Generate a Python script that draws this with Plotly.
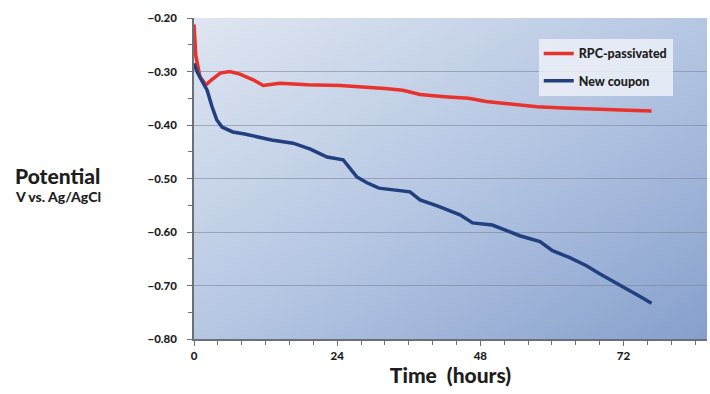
import base64
import plotly.graph_objects as go

# ---- data ----
rpc_hours = [0, 0.3, 1, 2, 3, 4.4, 6, 7.7, 10, 11.6, 14.4, 17, 19, 24.5, 29.5, 32, 35,
             37.9, 42, 46, 49, 53, 57.5, 62, 65.8, 70, 74, 76.7]
rpc_volts = [-0.212, -0.27, -0.31, -0.325, -0.315, -0.303, -0.300, -0.305, -0.316, -0.326,
             -0.322, -0.324, -0.325, -0.326, -0.329, -0.332, -0.335, -0.343, -0.347, -0.350,
             -0.356, -0.361, -0.366, -0.368, -0.370, -0.372, -0.373, -0.374]

new_hours = [0, 0.5, 1.2, 2.2, 3, 3.8, 4.7, 6.5, 8.5, 10.5, 13, 16.6, 19.5, 22.3, 25, 27.3,
             29, 31, 34, 36.2, 37.9, 41, 44.6, 46.7, 50, 53, 54.6, 58, 60.1, 63, 65.8, 68,
             70.9, 73, 74.7, 76.7]
new_volts = [-0.285, -0.30, -0.315, -0.335, -0.365, -0.39, -0.404, -0.413, -0.417, -0.422,
             -0.428, -0.434, -0.445, -0.46, -0.465, -0.497, -0.508, -0.518, -0.522, -0.525,
             -0.54, -0.552, -0.568, -0.583, -0.587, -0.600, -0.607, -0.618, -0.635, -0.648,
             -0.663, -0.678, -0.697, -0.71, -0.72, -0.733]

series_names = ["RPC-passivated", "New coupon"]
x_tick_vals = [0, 24, 48, 72]
y_tick_vals = [-0.8, -0.7, -0.6, -0.5, -0.4, -0.3, -0.2]

RED = "#e8322b"
NAVY = "#22407f"
FONT = "Lato"
TXT = "#1e1e1e"

fig = go.Figure()
fig.add_trace(go.Scatter(x=rpc_hours, y=rpc_volts, mode="lines", name=series_names[0],
                         line=dict(color=RED, width=3.5), legendgroup="a"))
fig.add_trace(go.Scatter(x=new_hours, y=new_volts, mode="lines", name=series_names[1],
                         line=dict(color=NAVY, width=3.5), legendgroup="b"))

# gradient background for the plot area
svg = ('<svg xmlns="http://www.w3.org/2000/svg" width="100" height="100" viewBox="0 0 100 100" '
       'preserveAspectRatio="none"><defs><linearGradient id="g" x1="0" y1="0" x2="1" y2="1">'
       '<stop offset="0" stop-color="#dfe6f1"/><stop offset="0.5" stop-color="#b6c7e3"/>'
       '<stop offset="1" stop-color="#86a0cd"/></linearGradient></defs>'
       '<rect width="100" height="100" fill="url(#g)"/></svg>')
src = "data:image/svg+xml;base64," + base64.b64encode(svg.encode()).decode()
fig.add_layout_image(dict(source=src, xref="paper", yref="paper", x=0, y=1, sizex=1, sizey=1,
                          sizing="stretch", xanchor="left", yanchor="top", layer="below"))

axis_common = dict(showline=True, linecolor="#6b6f78", linewidth=1.5, ticks="outside",
                   ticklen=5, tickcolor="#6b6f78", zeroline=False,
                   tickfont=dict(family=FONT, size=11.5, color=TXT, weight=900))

fig.update_xaxes(range=[0, 86], tickvals=x_tick_vals, showgrid=False,
                 minor=dict(dtick=4, ticks="outside", ticklen=4, tickcolor="#6b6f78"),
                 title=dict(text="Time\u00a0\u00a0(hours)", standoff=7,
                            font=dict(family=FONT, size=21, color=TXT, weight=900)),
                 **axis_common)
fig.update_yaxes(range=[-0.8, -0.2], tickvals=y_tick_vals, tickformat=".2f",
                 showgrid=True, gridcolor="rgba(120,128,145,0.55)", gridwidth=1,
                 minor=dict(dtick=0.05, ticks="outside", ticklen=4, tickcolor="#6b6f78",
                            showgrid=False),
                 ticklabelstandoff=8, **axis_common)

fig.add_annotation(text="Potential", xref="paper", yref="paper", x=-0.266, y=0.51,
                   showarrow=False, xanchor="center",
                   font=dict(family=FONT, size=21, color=TXT, weight=900))
fig.add_annotation(text="V vs. Ag/AgCl", xref="paper", yref="paper", x=-0.266, y=0.443,
                   showarrow=False, xanchor="center",
                   font=dict(family=FONT, size=14, color=TXT, weight=900))

fig.update_layout(
    width=710, height=394,
    margin=dict(l=194, r=3, t=18, b=55),
    paper_bgcolor="white", plot_bgcolor="rgba(0,0,0,0)",
    showlegend=True,
    legend=dict(x=0.672, y=0.935, xanchor="left", yanchor="top",
                bgcolor="rgba(236,240,247,0.85)", borderwidth=0,
                font=dict(family=FONT, size=12.5, color=TXT, weight=900),
                traceorder="grouped", tracegroupgap=8, itemwidth=30),
)

fig.write_html("out.html")
